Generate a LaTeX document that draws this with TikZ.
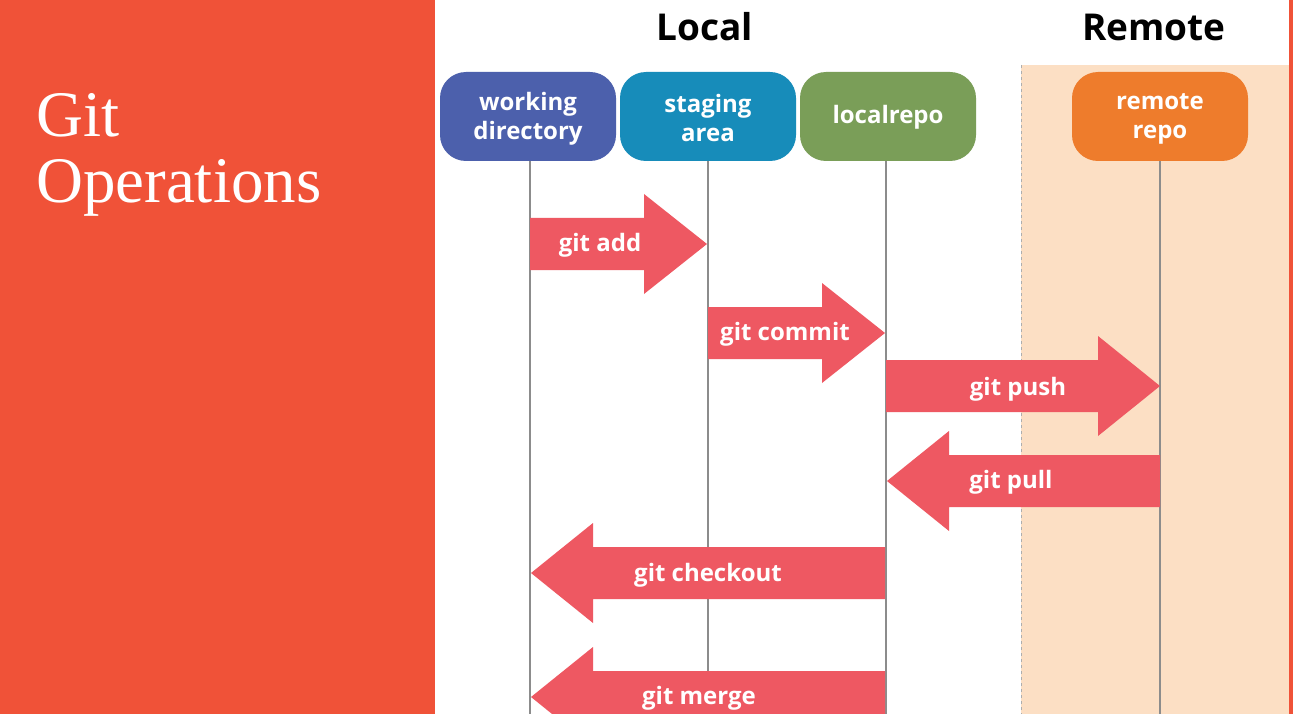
\documentclass[tikz,border=0pt]{standalone}
\usepackage{fontspec}
\usetikzlibrary{calc}
\newfontfamily\osans{Open Sans}
\newfontfamily\tserif{Liberation Serif}
\definecolor{panelred}{RGB}{240,82,56}
\definecolor{peach}{RGB}{252,223,196}
\definecolor{arrowred}{RGB}{238,88,98}
\definecolor{wdblue}{RGB}{76,96,172}
\definecolor{stteal}{RGB}{23,140,186}
\definecolor{lrgreen}{RGB}{122,158,88}
\definecolor{rrorange}{RGB}{238,124,44}
\definecolor{lifegray}{RGB}{140,140,140}
\newcommand\gitarrow[3]{%
  \fill[arrowfill] let \p1=(#1), \p2=(#2) in
    (\x1,\y1+26pt) -- (\x2-#3pt,\y1+26pt) -- (\x2-#3pt,\y1+50pt) -- (\x2,\y1)
    -- (\x2-#3pt,\y1-50pt) -- (\x2-#3pt,\y1-26pt) -- (\x1,\y1-26pt) -- cycle;}
\begin{document}
\begin{tikzpicture}[x=1pt,y=-1pt,
  repobox/.style={rounded corners=26pt, minimum width=176pt, minimum height=89pt,
    inner sep=0pt},
  boxtext/.style={text=white, align=center, inner sep=0pt,
    font=\osans\bfseries\fontsize{24}{29}\selectfont},
  header/.style={font=\osans\bfseries\fontsize{37}{40}\selectfont, text=black},
  lifeline/.style={draw=lifegray, line width=1.4pt},
  arrowfill/.style={fill=arrowred},
  arrowtext/.style={text=white, font=\osans\bfseries\fontsize{24}{28}\selectfont, inner sep=0pt},
  titletext/.style={text=white, anchor=base west, inner sep=0pt,
    font=\tserif\fontsize{65}{66}\selectfont}]
\useasboundingbox (0,0) rectangle (1293,714);
% backgrounds
\fill[white] (0,0) rectangle (1293,714);
\fill[panelred] (0,0) rectangle (435,714);
\fill[panelred] (1289,0) rectangle (1293,714);
\fill[peach] (1021,65) rectangle (1289,714);
\draw[lifegray!70, dashed, line width=0.9pt] (1021,65) -- (1021,714);
% title
\node[titletext] (t1) at (36,137) {Git};
\node[titletext] (t2) at (36,203) {Operations};
% headers
\node[header] (local) at (705,27) {Local};
\node[header] (remote) at (1154,27) {Remote};
% repo boxes
\node[repobox, fill=wdblue] (wd) at (528,116.5) {};
\node[repobox, fill=stteal] (sa) at (708,116.5) {};
\node[repobox, fill=lrgreen] (lr) at (888,116.5) {};
\node[repobox, fill=rrorange] (rr) at (1160,116.5) {};
\node[boxtext] (wdt) at ($(wd.center)+(0,2)$) {working\\directory};
\node[boxtext] (sat) at ($(sa.center)+(0,2)$) {staging\\area};
\node[boxtext] (lrt) at ($(lr.center)+(0,1)$) {localrepo};
\node[boxtext] (rrt) at ($(rr.center)+(0,2)$) {remote\\repo};
% lifelines
\coordinate (wdend) at (530,714);
\coordinate (saend) at (708,714);
\coordinate (lrend) at (886,714);
\coordinate (rrend) at (1160,714);
\draw[lifeline] (wd.south -| wdend) -- (wdend);
\draw[lifeline] (sa.south -| saend) -- (saend);
\draw[lifeline] (lr.south -| lrend) -- (lrend);
\draw[lifeline] (rr.south -| rrend) -- (rrend);
% arrows
\coordinate (add1) at (530,244);   \coordinate (add2) at (707,244);
\coordinate (com1) at (708,333);   \coordinate (com2) at (885,333);
\coordinate (push1) at (886,386);  \coordinate (push2) at (1160,386);
\coordinate (pull1) at (1160,481); \coordinate (pull2) at (887,481);
\coordinate (co1) at (885,573);    \coordinate (co2) at (531,573);
\coordinate (mg1) at (885,697);    \coordinate (mg2) at (531,697);
\gitarrow{add1}{add2}{63}
\gitarrow{com1}{com2}{63}
\gitarrow{push1}{push2}{62}
\gitarrow{pull1}{pull2}{-62}
\gitarrow{co1}{co2}{-62}
\gitarrow{mg1}{mg2}{-62}
\node[arrowtext] (addt) at (600,245) {git add};
\node[arrowtext] (comt) at (785,334) {git commit};
\node[arrowtext] (pusht) at (1018,389) {git push};
\node[arrowtext] (pullt) at (1011,482) {git pull};
\node[arrowtext] (cot) at (708,575) {git checkout};
\node[arrowtext] (mgt) at (699,698) {git merge};
\end{tikzpicture}
\end{document}
